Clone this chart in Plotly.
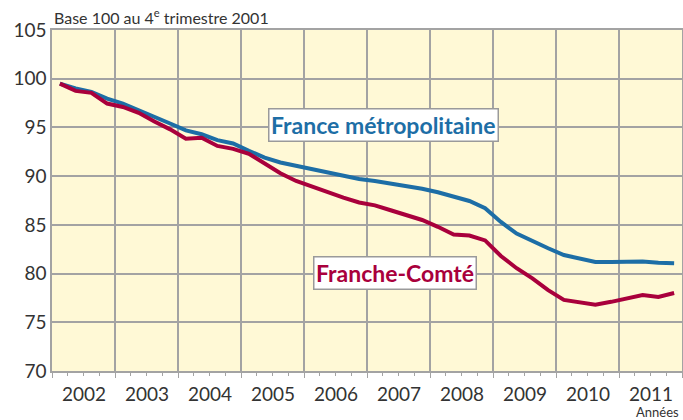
import plotly.graph_objects as go

quarters = [2002 + i // 4 + (i % 4 + 0.5) / 4 for i in range(40)]

france = [99.5, 99.0, 98.65, 97.95,
          97.45, 96.8, 96.1, 95.4,
          94.7, 94.3, 93.7, 93.35,
          92.6, 91.9, 91.4, 91.05,
          90.75, 90.4, 90.1, 89.7,
          89.5, 89.25, 88.9, 88.7,
          88.35, 87.9, 87.45, 86.7,
          85.3, 84.1, 83.3, 82.6,
          81.9, 81.6, 81.2, 81.2,
          81.25, 81.25, 81.1, 81.05]

fcomte = [99.5, 98.75, 98.55, 97.45,
          97.1, 96.5, 95.6, 94.8,
          93.85, 93.95, 93.1, 92.8,
          92.3, 91.3, 90.3, 89.5,
          88.9, 88.3, 87.8, 87.3,
          87.0, 86.5, 86.0, 85.5,
          84.8, 84.0, 83.9, 83.4,
          81.8, 80.55, 79.5, 78.3,
          77.3, 77.0, 76.8, 77.1,
          77.5, 77.8, 77.6, 78.0]

year_labels = ["2002", "2003", "2004", "2005", "2006", "2007", "2008", "2009", "2010", "2011"]
y_ticks = [70, 75, 80, 85, 90, 95, 100, 105]

blue = "#1d6ea6"
red = "#a9003c"
grid = "#a3a3a3"
font = "Lato"

fig = go.Figure()
fig.add_trace(go.Scatter(x=quarters, y=france, mode="lines",
                         line=dict(color=blue, width=4), showlegend=False))
fig.add_trace(go.Scatter(x=quarters, y=fcomte, mode="lines",
                         line=dict(color=red, width=4), showlegend=False))

fig.update_layout(
    width=683, height=420,
    margin=dict(l=52, r=1, t=30, b=49),
    paper_bgcolor="white",
    plot_bgcolor="#fff9d6",
    font=dict(family=font, color="#333333"),
    xaxis=dict(range=[2002, 2012], dtick=1, tick0=2002, showticklabels=False,
               showgrid=True, gridcolor=grid, gridwidth=1.5,
               showline=True, linecolor=grid, linewidth=1.5, mirror=True,
               ticks="outside", ticklen=5, tickcolor=grid, tickwidth=1,
               minor=dict(dtick=0.25, tick0=2002, ticks="outside", ticklen=3,
                          tickcolor=grid, showgrid=False),
               zeroline=False, fixedrange=True, automargin=False),
    yaxis=dict(range=[70, 105], tickvals=y_ticks, ticktext=[str(v) for v in y_ticks],
               showgrid=True, gridcolor=grid, gridwidth=1.5,
               showline=True, linecolor=grid, linewidth=1.5, mirror=True,
               tickfont=dict(size=19, color="#333333"), ticks="",
               zeroline=False, fixedrange=True, automargin=False),
)

for i, lab in enumerate(year_labels):
    fig.add_annotation(x=2002 + i + 0.5, y=70, xref="x", yref="y", text=lab,
                       showarrow=False, yshift=-22, font=dict(size=19, color="#333333"))

fig.add_annotation(x=0, y=1, xref="paper", yref="paper", xanchor="left", yanchor="bottom",
                   text="Base 100 au 4<sup>e</sup> trimestre 2001", showarrow=False,
                   yshift=1, font=dict(size=16, color="#333333"))
fig.add_annotation(x=1, y=0, xref="paper", yref="paper", xanchor="right", yanchor="top",
                   text="Années", showarrow=False, yshift=-31, xshift=-1,
                   font=dict(size=13, color="#333333"))

fig.add_annotation(x=2005.43, y=95.2, xref="x", yref="y", xanchor="left", yanchor="middle",
                   text="<b>France métropolitaine</b>", showarrow=False,
                   bgcolor="white", bordercolor="#9a9a9a", borderwidth=1.5, borderpad=1.5,
                   font=dict(size=23, color=blue))
fig.add_annotation(x=2006.14, y=80.1, xref="x", yref="y", xanchor="left", yanchor="middle",
                   text="<b>Franche-Comté</b>", showarrow=False,
                   bgcolor="white", bordercolor="#9a9a9a", borderwidth=1.5, borderpad=1.5,
                   font=dict(size=23, color=red))

fig.write_html("out.html", config={"displayModeBar": False},
               post_script="document.body.style.margin='0';document.body.style.overflow='hidden';")
